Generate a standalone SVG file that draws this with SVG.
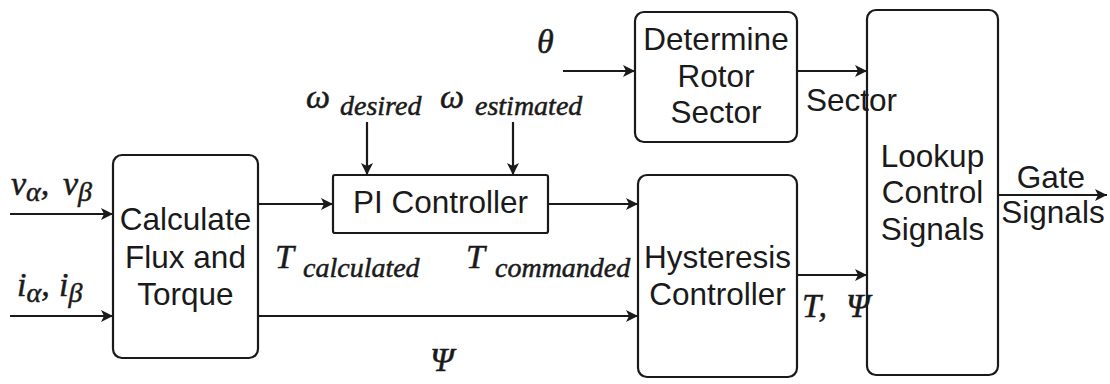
<svg xmlns="http://www.w3.org/2000/svg" width="1110" height="384" viewBox="0 0 1110 384">
<style>
.box{fill:#fff;stroke:#1a1a1a;stroke-width:2.2}
.lbl{font-family:"Liberation Sans",Arial,sans-serif;font-size:31.5px;fill:#1a1a1a;text-anchor:middle}
.lbl2{font-family:"Liberation Sans",Arial,sans-serif;font-size:31.5px;fill:#1a1a1a}
.m{font-family:"Liberation Serif","Times New Roman",serif;font-style:italic;font-size:34px;fill:#1a1a1a;stroke:#1a1a1a;stroke-width:0.5}
.s{font-size:28px}
.cn{stroke:#1a1a1a;stroke-width:2.2;fill:none;marker-end:url(#ah)}
</style>
<defs>
<marker id="ah" markerUnits="userSpaceOnUse" markerWidth="14" markerHeight="14" refX="12" refY="6" orient="auto">
<path d="M0,0 L12,6 L0,12 L3,6 z" fill="#1a1a1a"/>
</marker>
</defs>
<rect width="1110" height="384" fill="#fff"/>
<g id="connectors">
<line class="cn" x1="10" y1="214" x2="113" y2="214"/>
<line class="cn" x1="10" y1="316" x2="113" y2="316"/>
<line class="cn" x1="258" y1="204" x2="333" y2="204"/>
<line class="cn" x1="367" y1="122" x2="367" y2="175"/>
<line class="cn" x1="513" y1="122" x2="513" y2="175"/>
<line class="cn" x1="548" y1="204" x2="638" y2="204"/>
<line class="cn" x1="258" y1="316" x2="638" y2="316"/>
<line class="cn" x1="563" y1="71" x2="635" y2="71"/>
<line class="cn" x1="797" y1="71" x2="867" y2="71"/>
<line class="cn" x1="797" y1="275" x2="867" y2="275"/>
<line class="cn" x1="998" y1="195" x2="1107" y2="195"/>
</g>
<g id="calc">
<rect class="box" x="113" y="155" width="145" height="203" rx="9"/>
<text class="lbl" x="185.5" y="230">Calculate</text>
<text class="lbl" x="185.5" y="268">Flux and</text>
<text class="lbl" x="185.5" y="305">Torque</text>
</g>
<g id="pi">
<rect class="box" x="333" y="175" width="215" height="58" rx="2"/>
<text class="lbl" x="440.5" y="213">PI Controller</text>
</g>
<g id="sector">
<rect class="box" x="635" y="12" width="162" height="130" rx="9"/>
<text class="lbl" x="716" y="50">Determine</text>
<text class="lbl" x="716" y="87">Rotor</text>
<text class="lbl" x="716" y="123">Sector</text>
</g>
<g id="hyst">
<rect class="box" x="638" y="175" width="159" height="202" rx="9"/>
<text class="lbl" x="717.5" y="268">Hysteresis</text>
<text class="lbl" x="717.5" y="305">Controller</text>
</g>
<g id="lookup">
<rect class="box" x="867" y="10" width="131" height="365" rx="9"/>
<text class="lbl" x="932.5" y="167">Lookup</text>
<text class="lbl" x="932.5" y="203">Control</text>
<text class="lbl" x="932.5" y="240">Signals</text>
</g>
<g id="labels">
<text class="m" x="11" y="195">v<tspan class="s" dy="6">α</tspan><tspan dy="-6">, </tspan><tspan x="63">v</tspan><tspan class="s" dy="6">β</tspan></text>
<text class="m" x="17" y="296">i<tspan class="s" dy="6">α</tspan><tspan dy="-6">, </tspan><tspan x="59">i</tspan><tspan class="s" dy="6">β</tspan></text>
<text class="m" x="537" y="53">θ</text>
<text class="m" x="306" y="108">ω<tspan class="s" x="340" y="115">desired</tspan></text>
<text class="m" x="440" y="108">ω<tspan class="s" x="475" y="115">estimated</tspan></text>
<text class="m" x="275" y="268">T<tspan class="s" x="303" y="277">calculated</tspan></text>
<text class="m" x="466" y="268">T<tspan class="s" x="495" y="277">commanded</tspan></text>
<text class="m" x="430" y="371">Ψ</text>
<text class="m" x="802" y="317">T,<tspan x="846">Ψ</tspan></text>
<text class="lbl2" x="806" y="111">Sector</text>
<text class="lbl" x="1051" y="188">Gate</text>
<text class="lbl" x="1053" y="223">Signals</text>
</g>
</svg>
